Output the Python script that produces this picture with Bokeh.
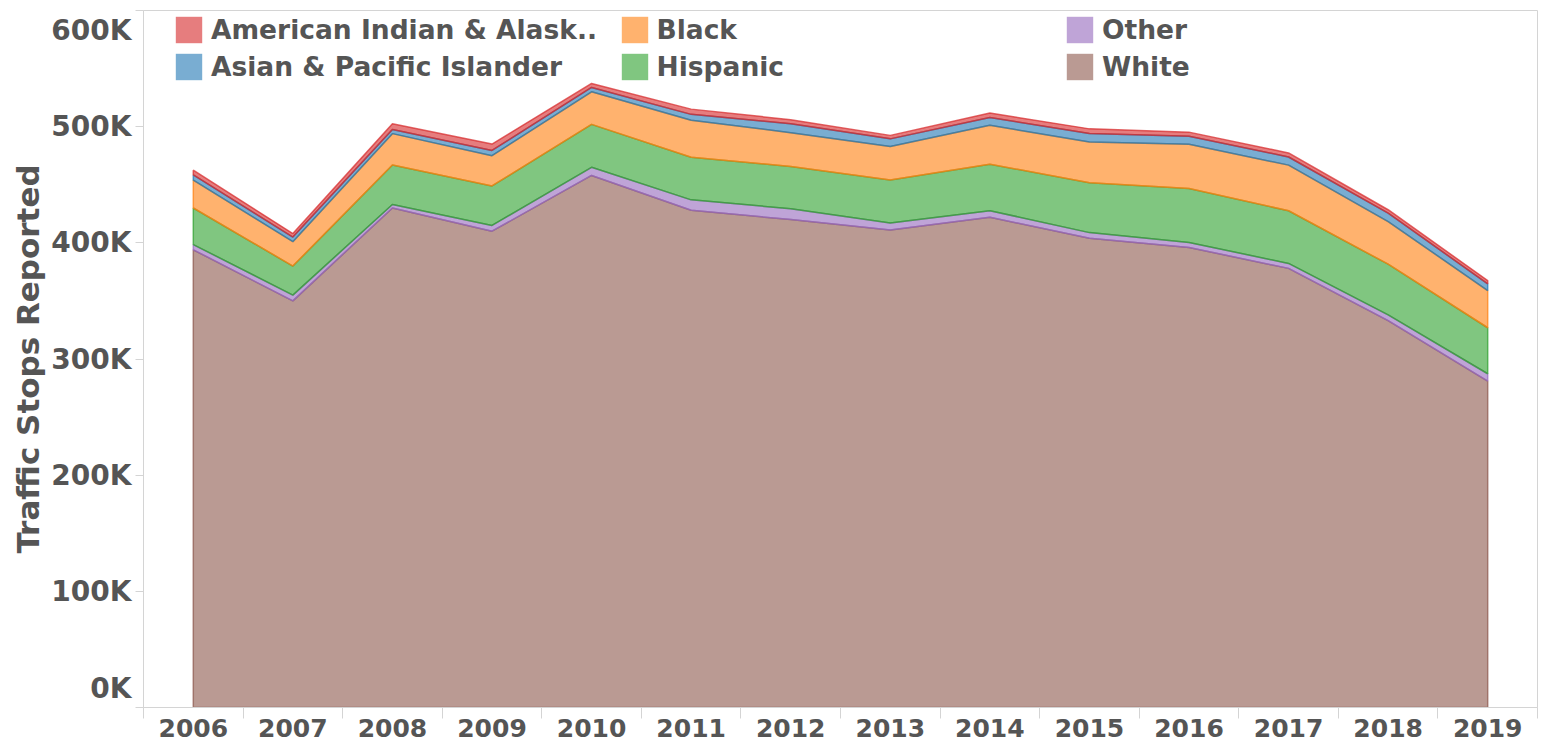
from bokeh.plotting import figure
from bokeh.models import Range1d, FixedTicker, Legend, LegendItem, ColumnDataSource
from bokeh.embed import file_html
from bokeh.resources import INLINE

years = [2006, 2007, 2008, 2009, 2010, 2011, 2012, 2013, 2014, 2015, 2016, 2017, 2018, 2019]
white = [394000, 350000, 430000, 410000, 458000, 428000, 420000, 411000, 422000, 404000, 396000, 378000, 333000, 281000]
other = [4500, 5000, 3000, 5000, 7000, 9000, 9400, 6000, 5700, 4800, 4300, 4300, 5000, 6300]
hispanic = [31500, 25000, 34000, 34000, 37000, 36600, 36400, 37000, 40000, 43000, 46500, 45300, 43600, 39600]
black = [24000, 21000, 27000, 26000, 28000, 32000, 29000, 29000, 33500, 35000, 38000, 39300, 36700, 32000]
asian = [4500, 4000, 3500, 4500, 3800, 5000, 7800, 6500, 6600, 7300, 7000, 7000, 7200, 5800]
amind = [4000, 3000, 5000, 5500, 3400, 4500, 3400, 3000, 4000, 4000, 3500, 3500, 3000, 2800]

series_names = ["White", "Other", "Hispanic", "Black", "Asian & Pacific Islander", "American Indian & Alask.."]
series_values = [white, other, hispanic, black, asian, amind]
series_colors = ["#8C564B", "#9467BD", "#2CA02C", "#FF7F0E", "#1F77B4", "#D62728"]

y_ticks = [0, 100000, 200000, 300000, 400000, 500000, 600000]
y_tick_labels = ["0K", "100K", "200K", "300K", "400K", "500K", "600K"]
year_labels = [str(y) for y in years]

FONT = "DejaVu Sans"
TXT = "#555555"
GRID = "#d4d4d4"

FRAME_H = 697
p = figure(width=1544, height=747, output_backend="svg", toolbar_location=None,
           x_range=Range1d(2005.5, 2019.5), y_range=Range1d(y_ticks[0], y_ticks[-1]),
           min_border_left=143, min_border_right=7, min_border_top=10, min_border_bottom=40)
p.xgrid.visible = False
p.ygrid.visible = False
p.outline_line_color = GRID
p.outline_line_width = 1
p.background_fill_color = "white"
p.border_fill_color = "white"

# stacked areas, drawn bottom to top
bottom = [0.0] * len(years)
for name, vals, col in zip(series_names, series_values, series_colors):
    top = [b + v for b, v in zip(bottom, vals)]
    xs = years + years[::-1]
    ys = top + bottom[::-1]
    p.patch(xs, ys, fill_color=col, fill_alpha=0.6, line_color=col, line_alpha=0.7, line_width=1.5)
    bottom = top

# x axis: labels at band centres, tick marks at band edges
xa = p.xaxis[0]
xa.ticker = FixedTicker(ticks=years, minor_ticks=[y - 0.5 for y in years] + [years[-1] + 0.5])
xa.major_label_overrides = {y: l for y, l in zip(years, year_labels)}
xa.major_tick_out = 0
xa.major_tick_in = 0
xa.minor_tick_out = 11
xa.minor_tick_in = 0
xa.minor_tick_line_color = GRID
xa.axis_line_color = GRID
xa.major_label_standoff = 0
xa.major_label_text_font = FONT
xa.major_label_text_font_style = "bold"
xa.major_label_text_font_size = "25px"
xa.major_label_text_color = TXT

# y axis: tick marks at exact values (minor), labels with end labels nudged inward
per_px = (y_ticks[-1] - y_ticks[0]) / FRAME_H
label_pos = list(y_ticks)
label_pos[0] = y_ticks[0] + 19 * per_px
label_pos[-1] = y_ticks[-1] - 20 * per_px
ya = p.yaxis[0]
ya.ticker = FixedTicker(ticks=label_pos, minor_ticks=y_ticks)
ya.major_label_overrides = {pos: l for pos, l in zip(label_pos, y_tick_labels)}
ya.major_tick_out = 8
ya.major_tick_in = 0
ya.major_tick_line_color = None
ya.minor_tick_out = 8
ya.minor_tick_in = 0
ya.minor_tick_line_color = GRID
ya.axis_line_color = GRID
ya.major_label_standoff = 4
ya.major_label_text_font = FONT
ya.major_label_text_font_style = "bold"
ya.major_label_text_font_size = "28px"
ya.major_label_text_color = TXT
ya.axis_label = "Traffic Stops Reported"
ya.axis_label_text_font = FONT
ya.axis_label_text_font_style = "bold"
ya.axis_label_text_font_size = "31px"
ya.axis_label_text_color = TXT
ya.axis_label_standoff = 2

# legend swatches (flat squares), data placed outside the visible range
legend_order = ["American Indian & Alask..", "Asian & Pacific Islander", "Black", "Hispanic", "Other", "White"]
color_of = dict(zip(series_names, series_colors))
swatch = {}
offscreen = ColumnDataSource(data=dict(l=[1990], r=[1990.1], t=[-10], b=[-20]))
for name in legend_order:
    swatch[name] = p.quad(left="l", right="r", top="t", bottom="b", source=offscreen,
                          fill_color=color_of[name], fill_alpha=0.6, line_color=None)

for ci in range(3):
    items = [LegendItem(label=n, renderers=[swatch[n]]) for n in legend_order[ci * 2: ci * 2 + 2]]
    lg = Legend(items=items, location=(29 + ci * 445.5, 624.5), orientation="vertical",
                glyph_width=33, glyph_height=33, label_height=26, spacing=4,
                label_standoff=6, padding=0, margin=0,
                border_line_color=None, background_fill_alpha=0,
                label_text_font=FONT, label_text_font_style="bold",
                label_text_font_size="26.5px", label_text_color=TXT,
                label_text_baseline="middle")
    p.add_layout(lg, "center")

open("out.html", "w").write(file_html(p, INLINE))
